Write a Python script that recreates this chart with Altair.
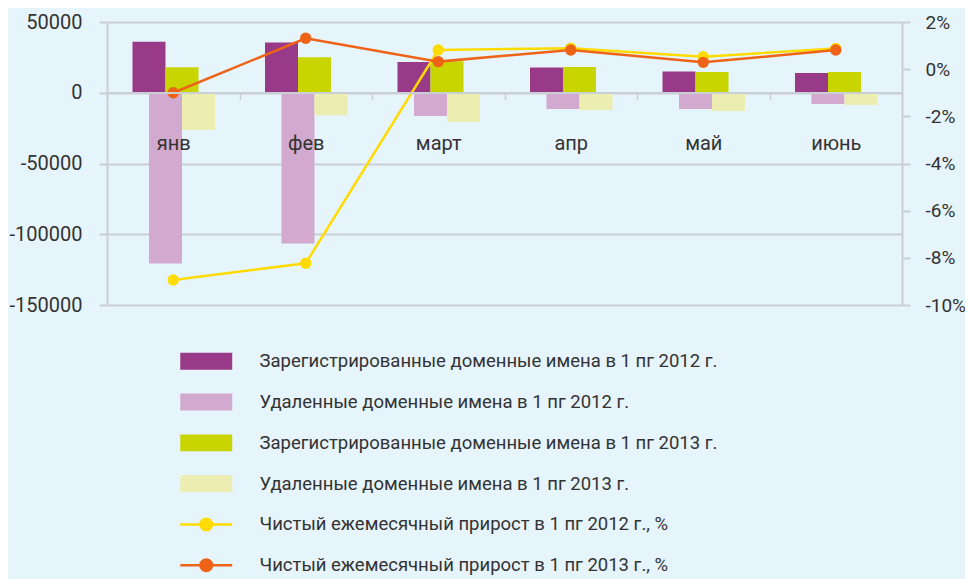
import altair as alt
import pandas as pd

months = ["янв", "фев", "март", "апр", "май", "июнь"]
bar_series = [
    "Зарегистрированные доменные имена в 1 пг 2012 г.",
    "Удаленные доменные имена в 1 пг 2012 г.",
    "Зарегистрированные доменные имена в 1 пг 2013 г.",
    "Удаленные доменные имена в 1 пг 2013 г.",
]
line_series = [
    "Чистый ежемесячный прирост в 1 пг 2012 г., %",
    "Чистый ежемесячный прирост в 1 пг 2013 г., %",
]
reg_2012 = [36000, 35500, 21800, 17800, 15000, 14000]
del_2012 = [-120700, -106600, -16400, -11400, -11400, -7900]
reg_2013 = [18000, 25100, 22300, 18200, 14700, 14700]
del_2013 = [-26300, -15900, -20600, -12200, -12900, -8600]
growth_2012 = [-8.94, -8.23, 0.81, 0.89, 0.53, 0.88]
growth_2013 = [-1.0, 1.31, 0.32, 0.81, 0.29, 0.81]
colors = ["#983A88", "#D2AAD0", "#C8D500", "#ECEDB1", "#FFDB00", "#EE6316"]

bar_values = [reg_2012, del_2012, reg_2013, del_2013]
bar_df = pd.DataFrame(
    [{"month": m, "series": s, "value": v}
     for s, vals in zip(bar_series, bar_values) for m, v in zip(months, vals)]
)
line_values = [growth_2012, growth_2013]
line_df = pd.DataFrame(
    [{"month": m, "series": s, "pct": v}
     for s, vals in zip(line_series, line_values) for m, v in zip(months, vals)]
)

GRID = "#C9CFD4"
TEXT = "#333333"
FONT = "Roboto"

x_enc = alt.X(
    "month:N", sort=months,
    scale=alt.Scale(paddingInner=0, paddingOuter=0),
    axis=alt.Axis(title=None, labelAngle=0, grid=False, domainColor=GRID, domainWidth=2,
                  tickColor=GRID, tickWidth=1.5, tickSize=7, tickBand="extent",
                  offset=-212.5, labelPadding=34, labelFontSize=20, labelColor=TEXT,
                  labelFont=FONT, zindex=1),
)

rect_path = "M-3.71,-1.21H3.71V1.21H-3.71Z"
line_path = "M-3.71,0H3.71M0.82,0A0.82,0.82 0 1 1 -0.82,0A0.82,0.82 0 1 1 0.82,0Z"
is_bar = "indexof(domain('color'), datum.value) < 4"
legend = alt.Legend(
    title=None, orient="none", legendX=90, legendY=330, direction="vertical",
    symbolType={"expr": f"{is_bar} ? '{rect_path}' : '{line_path}'"},
    symbolSize=196,
    symbolStrokeWidth={"expr": f"{is_bar} ? 0 : 2.5"},
    symbolFillColor={"expr": "scale('color', datum.value)"},
    symbolStrokeColor={"expr": "scale('color', datum.value)"},
    symbolOpacity=1, labelFontSize=18.5, labelColor=TEXT, labelFont=FONT,
    labelLimit=700, labelOffset=44, rowPadding=18.8, padding=0, gridAlign="all",
)
color_scale = alt.Scale(domain=bar_series + line_series, range=colors)

bars = alt.Chart(bar_df).mark_bar(width=alt.RelativeBandSize(2)).encode(
    x=x_enc,
    xOffset=alt.XOffset("series:N", sort=bar_series,
                        scale=alt.Scale(range=[91.75, 157.75], paddingInner=0, paddingOuter=0)),
    y=alt.Y("value:Q", scale=alt.Scale(domain=[-150000, 50000], nice=False, zero=False),
            axis=alt.Axis(title=None, values=[-150000, -100000, -50000, 0, 50000],
                          labelExpr="toString(datum.value)", grid=True, gridColor=GRID,
                          gridWidth=2, domainColor=GRID, domainWidth=2, tickColor=GRID,
                          tickWidth=2, tickSize=8, labelPadding=17, labelFontSize=20,
                          labelColor=TEXT, labelFont=FONT)),
    color=alt.Color("series:N", scale=color_scale, legend=legend),
)

y_pct = alt.Y("pct:Q", scale=alt.Scale(domain=[-10, 2], nice=False, zero=False),
              axis=alt.Axis(title=None, orient="right", values=[-10, -8, -6, -4, -2, 0, 2],
                            labelExpr="toString(datum.value) + '%'", grid=False,
                            domainColor=GRID, domainWidth=2, tickColor=GRID, tickWidth=2,
                            tickSize=8, labelPadding=15, labelFontSize=19, labelColor=TEXT,
                            labelFont=FONT))
lines = alt.Chart(line_df).mark_line(strokeWidth=2.5).encode(
    x=x_enc, y=y_pct, color=alt.Color("series:N", scale=color_scale, legend=legend),
)
points = alt.Chart(line_df).mark_circle(size=130, opacity=1).encode(
    x=x_enc, y=y_pct, color=alt.Color("series:N", scale=color_scale, legend=legend),
)

chart = alt.layer(bars, alt.layer(lines, points)).resolve_scale(y="independent").properties(
    width=795, height=283,
    autosize=alt.AutoSizeParams(type="none"),
    padding={"left": 99, "top": 14, "right": 63, "bottom": 274},
).configure(background="#E6F4FB", font=FONT).configure_view(stroke=None)

chart.save("out.html", embed_options={"renderer": "svg", "actions": False})
